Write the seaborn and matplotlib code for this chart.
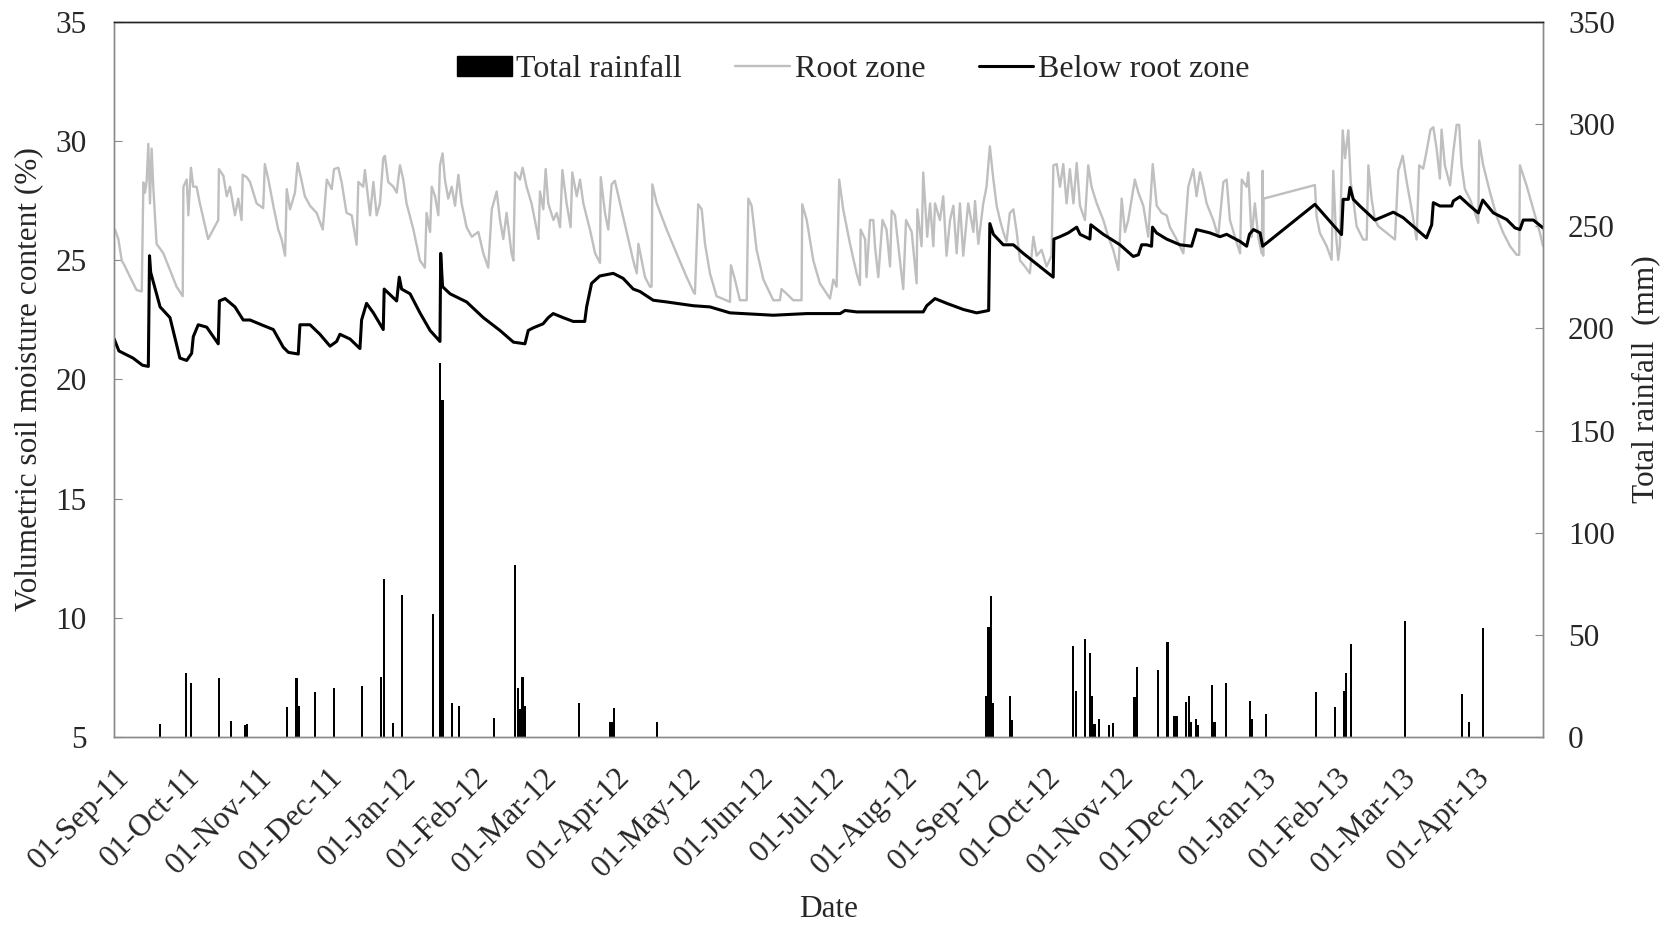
import numpy as np
import pandas as pd
import matplotlib
matplotlib.use("Agg")
import matplotlib.pyplot as plt
import matplotlib.dates as mdates
from matplotlib.patches import Patch
from matplotlib.lines import Line2D
import seaborn as sns

# ---------------- data (days after 01-Sep-2011) ----------------
START = "2011-09-01"

below_days = [0, 2, 8, 12, 14.5, 15, 15.5, 19.5, 23.7, 27.9,
              30.8, 32.9, 33.6, 35.7, 39.3, 44.2, 44.7, 47.1, 51.3, 54.8,
              57.7, 63.3, 67.6, 71.8, 74.0, 78.2, 78.9, 83.2, 87.4, 91.7,
              94.5, 95.9, 100.2, 104.4, 105.1, 107.2, 110.1, 114.3, 114.7, 120.0,
              121.1, 122.1, 125.7, 129.9, 134.2, 138.4, 138.7, 139.5, 142.7, 149.7,
              156.8, 163.9, 169.6, 174.5, 175.9, 178.0, 182.2, 184.4, 186.5, 190.7,
              195.0, 199.9, 200.7, 202.8, 206.3, 212.0, 216.2, 220.5, 223.3, 229.0,
              234.6, 246.0, 253.1, 261.6, 280.0, 294.2, 308.4, 310.5, 315.4, 343.7,
              345.2, 348.7, 353.7, 360.8, 366.4, 371.5, 372.0, 373.5, 377.7, 382.0,
              386.2, 398.9, 399.2, 401.8, 405.3, 408.9, 410.3, 414.5, 414.9, 420.2,
              427.3, 432.9, 435.1, 436.5, 438.6, 440.7, 441.1, 442.8, 447.1, 452.8,
              457.7, 459.8, 465.5, 469.8, 472.6, 475.4, 478.3, 481.1, 482.3, 484.0,
              486.8, 487.9, 510.1, 521.4, 522.1, 524.3, 525.0, 526.4, 529.2, 535.6,
              543.4, 547.6, 557.5, 559.7, 560.4, 563.2, 568.2, 568.9, 571.7, 576.0,
              579.5, 581.4, 585.9, 591.6, 595.1, 597.2, 598.6, 602.9, 607.0]
below_vals = [21.7, 21.2, 20.9, 20.6, 20.55, 25.2, 24.5, 23.05, 22.6, 20.9,
              20.8, 21.1, 21.8, 22.3, 22.2, 21.5, 23.3, 23.4, 23.05, 22.5,
              22.5, 22.27, 22.1, 21.36, 21.14, 21.07, 22.3, 22.3, 21.9, 21.4,
              21.6, 21.9, 21.7, 21.3, 22.5, 23.2, 22.8, 22.1, 23.8, 23.3,
              24.3, 23.8, 23.6, 22.8, 22.06, 21.6, 25.3, 23.9, 23.6, 23.26,
              22.6, 22.06, 21.57, 21.5, 22.06, 22.17, 22.34, 22.6, 22.77, 22.6,
              22.44, 22.44, 23.05, 24.04, 24.35, 24.46, 24.25, 23.8, 23.7, 23.33,
              23.26, 23.1, 23.05, 22.8, 22.7, 22.77, 22.77, 22.9, 22.84, 22.84,
              23.1, 23.4, 23.2, 22.94, 22.8, 22.9, 26.55, 26.1, 25.66, 25.66,
              25.3, 24.3, 25.9, 26.0, 26.16, 26.4, 26.1, 25.9, 26.5, 26.1,
              25.66, 25.17, 25.24, 25.66, 25.66, 25.6, 26.4, 26.16, 25.9, 25.66,
              25.6, 26.3, 26.16, 26.0, 26.1, 25.95, 25.8, 25.6, 26.1, 26.3,
              26.16, 25.6, 27.36, 26.09, 27.57, 27.57, 28.07, 27.57, 27.29, 26.7,
              27.03, 26.8, 25.95, 26.5, 27.43, 27.29, 27.29, 27.5, 27.68, 27.29,
              27.0, 27.54, 27.0, 26.72, 26.37, 26.3, 26.7, 26.7, 26.37]

root_days = [
    0.35, 1.76, 3.2, 4.6, 6.0, 8.1, 9.5, 11.7, 12.4, 13.1,
    13.8, 14.5, 15.2, 15.9, 16.6, 18.0, 20.9, 23.7, 26.5, 29.1,
    29.4, 30.8, 31.5, 32.6, 33.6, 35.0, 36.4, 39.9, 44.2, 44.5,
    46.4, 47.8, 49.2, 51.3, 52.7, 54.1, 54.6, 56.3, 57.7, 60.5,
    63.3, 64.0, 65.5, 67.6, 69.7, 71.1, 72.6, 73.3, 74.7, 76.8,
    77.9, 79.6, 81.0, 83.2, 86.0, 88.6, 90.3, 92.4, 93.4, 95.2,
    96.6, 98.7, 100.9, 103.0, 103.7, 105.8, 106.5, 108.7, 110.1, 111.5,
    112.9, 114.3, 115.0, 116.4, 118.6, 120.0,
    121.4, 122.8, 124.2, 127.1, 129.9, 132.0, 132.7, 134.2, 134.9, 136.3,
    137.7, 138.4, 139.5, 140.5, 141.9, 143.4, 144.8, 146.2, 147.6, 149.7,
    151.9, 154.7, 156.8, 158.9, 160.4, 162.5, 163.9, 165.3, 166.7, 168.8,
    169.6, 170.3, 172.4, 173.5, 175.2, 177.3, 179.5, 180.2, 180.9, 182.3,
    183.3, 184.4, 186.6, 188.0, 189.4, 190.4, 192.2, 193.9, 194.6, 196.5,
    197.9, 199.3, 202.1, 204.3, 206.4, 206.7, 208.5, 209.9, 211.3, 212.7,
    214.9, 217.7, 220.5, 222.0, 222.7, 224.1, 225.5, 227.6, 228.3, 228.6,
    230.5, 234.7, 238.9, 243.2, 246.0,
    246.7, 248.1, 249.6, 251.0, 253.1, 255.9, 261.6, 262.0, 263.7, 265.8,
    268.7, 269.4, 270.8, 272.9, 275.8, 280.0, 282.8, 283.5, 285.7, 288.5,
    292.0, 292.3, 294.2, 297.0, 299.8, 304.1, 305.5, 306.9, 308.0, 309.7,
    312.6, 315.4, 316.8, 317.1, 319.0, 319.6, 321.1, 322.5, 323.2, 324.6,
    326.4, 328.1, 329.6, 330.3, 331.7, 333.8, 335.2, 336.4, 338.8, 340.9,
    341.2, 343.0, 343.7, 345.4, 346.6, 348.0, 348.7, 350.8, 352.2, 353.6,
    355.1, 356.5, 357.9, 359.3, 360.7, 362.8, 365.0, 365.7, 367.1,
    369.2, 370.6, 372.0, 373.5, 374.9, 376.3, 377.7, 379.1, 380.5, 382.0,
    383.4, 384.8, 386.9, 389.0, 390.5, 391.9, 394.0, 396.1, 398.2, 399.0,
    400.4, 401.8, 403.2, 404.6, 406.0, 407.5, 408.9, 410.3, 412.4, 413.8,
    415.2, 417.4, 420.2, 422.3, 424.4, 426.6, 428.0, 429.4, 430.8, 433.6,
    435.1, 437.2, 439.3, 441.2, 442.9, 445.0, 447.1, 448.5, 451.3, 454.2,
    456.3, 458.4, 459.8, 461.3, 462.7, 464.1, 466.9, 469.0, 471.2, 472.6,
    474.0, 476.1, 478.3, 479.0, 481.1, 481.8, 483.2, 484.6, 486.0, 487.5,
    487.9, 488.1, 488.3,
    510.1, 510.8, 512.2, 515.1, 517.2, 517.9, 519.0, 520.0, 520.7, 521.9,
    522.9, 524.3, 525.3, 526.4, 527.8, 529.2, 530.6, 532.1, 532.8, 534.2,
    535.6, 537.0, 540.6, 544.1, 545.5, 547.4, 549.1, 551.2, 553.3, 554.4,
    556.1, 557.5, 559.2, 560.4, 561.8, 563.2, 563.9, 565.3, 567.5, 568.9,
    570.3, 571.4, 572.4, 573.8, 576.0, 578.1, 579.5, 579.9, 581.6, 584.5,
    587.3, 590.1, 593.0, 595.8, 596.9, 597.2, 600.0, 602.9, 605.7, 607.0]
root_vals = [
    26.3, 25.9, 25.0, 24.75, 24.46, 24.04, 23.76, 23.7, 28.28, 27.85,
    28.35, 29.9, 27.4, 29.7, 28.1, 25.7, 25.3, 24.6, 23.9, 23.5,
    28.1, 28.4, 26.9, 28.9, 28.1, 28.1, 27.4, 25.9, 26.7, 28.84,
    28.56, 27.7, 28.1, 26.9, 27.6, 26.7, 28.6, 28.5, 28.3, 27.4,
    27.2, 29.05, 28.4, 27.3, 26.3, 25.9, 25.2, 28.0, 27.15, 27.85,
    29.1, 28.35, 27.7, 27.3, 27.0, 26.3, 28.4, 28.0, 28.84, 28.9,
    28.3, 27.0, 26.9, 25.66, 28.3, 28.1, 28.8, 26.9, 28.3, 26.9,
    27.4, 29.3, 29.4, 28.3, 28.1, 27.85,
    29.0, 28.4, 27.4, 26.3, 25.0, 24.7, 27.0, 26.2, 28.1, 27.7,
    26.9, 29.0, 29.5, 28.4, 27.6, 28.1, 27.3, 28.6, 27.4, 26.4,
    26.0, 26.2, 25.3, 24.7, 27.15, 27.9, 26.7, 25.9, 27.0, 25.3,
    25.0, 28.7, 28.4, 28.9, 28.1, 27.4, 26.3, 25.9, 27.9, 27.15,
    28.84, 27.4, 26.7, 27.0, 26.4, 28.8, 27.4, 26.4, 28.7, 27.7,
    28.4, 27.4, 26.3, 25.3, 24.9, 28.5, 27.0, 26.3, 28.2, 28.35,
    27.4, 26.2, 25.0, 24.46, 25.7, 25.0, 24.3, 23.9, 23.9, 28.2,
    27.4, 26.3, 25.3, 24.3, 23.7,
    23.6, 27.36, 27.15, 25.7, 24.46, 23.5, 23.26, 24.8, 24.2, 23.33,
    23.33, 27.6, 27.3, 25.45, 24.2, 23.33, 23.33, 23.8, 23.6, 23.33,
    23.33, 27.36, 26.7, 25.0, 24.04, 23.4, 24.2, 23.9, 28.4, 27.15,
    25.7, 24.46, 23.97, 26.3, 25.9, 24.3, 26.7, 26.7, 25.6, 24.3,
    26.7, 26.3, 24.75, 27.1, 26.9, 25.0, 23.8, 26.7, 26.2, 24.04,
    27.15, 25.6, 28.7, 26.0, 27.4, 25.6, 27.4, 26.7, 27.7, 25.2,
    26.7, 27.3, 25.3, 27.4, 25.2, 27.4, 26.2, 27.5, 25.7,
    27.4, 28.1, 29.8, 28.4, 27.3, 26.7, 26.2, 25.8, 27.0, 27.15,
    26.2, 25.0, 24.75, 24.46, 26.0, 25.2, 25.45, 24.75, 25.2, 29.0,
    29.05, 28.1, 29.05, 27.4, 28.84, 27.4, 29.1, 27.3, 26.7, 29.0,
    28.1, 27.4, 26.7, 26.0, 25.45, 24.6, 27.6, 26.2, 26.7, 28.4,
    27.85, 27.3, 26.0, 29.05, 27.3, 27.0, 26.9, 26.4, 25.9, 25.3,
    28.1, 28.84, 27.7, 28.7, 28.1, 27.4, 26.7, 26.0, 28.3, 28.4,
    26.7, 26.0, 25.3, 28.4, 28.1, 28.7, 26.0, 27.4, 26.0, 25.3,
    28.77, 25.2, 27.6,
    28.17, 26.86, 26.16, 25.6, 25.03, 28.77, 26.16, 25.03, 25.6, 30.47,
    29.3, 30.47, 28.3, 27.57, 26.44, 26.16, 25.88, 25.88, 29.0, 27.57,
    26.72, 26.44, 26.16, 25.88, 28.77, 29.4, 28.3, 27.15, 25.88, 29.0,
    28.86, 29.57, 30.5, 30.6, 29.7, 28.44, 30.5, 29.0, 28.16, 29.57,
    30.7, 30.7, 29.0, 28.0, 27.57, 27.0, 26.58, 30.04, 29.0, 27.86,
    26.86, 26.16, 25.6, 25.24, 25.24, 29.0, 28.16, 27.15, 26.16, 25.6]

rain_days = [19, 30, 32, 44, 49, 55, 56, 73, 77, 78,
             85, 93, 105, 113, 114, 118, 122, 135, 138, 139,
             143, 146, 161, 170, 171, 172, 173, 174, 197, 210,
             211, 212, 230, 370, 371, 372, 373, 380, 381, 407,
             408, 412, 414, 415, 416, 418, 422, 424, 433, 434,
             443, 447, 450, 451, 455, 456, 457, 459, 460, 466,
             467, 472, 482, 483, 489, 510, 518, 522, 523, 525,
             548, 572, 575, 581]
rain_mm = [6.1, 31.3, 26.4, 28.8, 7.6, 5.6, 6.1, 14.3, 28.8, 15.0,
           22.0, 23.6, 24.9, 29.3, 77.1, 6.8, 69.4, 60.0, 183.2, 165.0,
           16.3, 15.0, 9.2, 84.1, 23.6, 13.3, 29.3, 15.0, 16.3, 7.3,
           7.3, 13.8, 7.3, 20.0, 53.8, 69.0, 16.3, 20.0, 8.1, 44.5,
           22.5, 47.6, 40.8, 20.0, 6.1, 8.7, 5.6, 6.8, 19.5, 33.9,
           32.6, 46.5, 10.0, 10.0, 16.8, 20.0, 7.3, 8.7, 5.6, 25.1,
           7.3, 26.4, 17.6, 8.7, 11.2, 22.0, 14.5, 22.5, 31.3, 45.2,
           56.6, 20.7, 7.3, 53.3]

assert len(below_days) == len(below_vals), (len(below_days), len(below_vals))
assert len(root_days) == len(root_vals), (len(root_days), len(root_vals))
assert len(rain_days) == len(rain_mm), (len(rain_days), len(rain_mm))

left_ticks = [5, 10, 15, 20, 25, 30, 35]
right_ticks = [0, 50, 100, 150, 200, 250, 300, 350]
legend_labels = ["Total rainfall", "Root zone", "Below root zone"]

# ---------------- style ----------------
sns.set_style("white")
plt.rcParams["font.family"] = ["Liberation Serif", "DejaVu Serif"]
FS = 22.5
GREY_AX = "#8a8a8a"
ROOT_C = "#bfbfbf"

start = pd.Timestamp(START)
def to_dates(days):
    return start + pd.to_timedelta(np.asarray(days, dtype=float), unit="D")

df_below = pd.DataFrame({"date": to_dates(below_days), "vwc": below_vals})
df_root = pd.DataFrame({"date": to_dates(root_days), "vwc": root_vals})
df_rain = pd.DataFrame({"date": to_dates(rain_days), "mm": rain_mm})

fig = plt.figure(figsize=(16.73, 9.27), dpi=100)
ax = fig.add_axes([0.06826, 0.2055, 0.85404, 0.77023])
ax2 = ax.twinx()

# rainfall bars (right axis)
ax2.bar(df_rain["date"], df_rain["mm"], width=0.9, align="edge",
        color="black", linewidth=0)

# soil moisture lines (left axis)
sns.lineplot(data=df_root, x="date", y="vwc", ax=ax, color=ROOT_C,
             linewidth=1.7, estimator=None, sort=False, legend=False)
sns.lineplot(data=df_below, x="date", y="vwc", ax=ax, color="black",
             linewidth=2.2, estimator=None, sort=False, legend=False)

ax.set_zorder(ax2.get_zorder() + 1)
ax.patch.set_visible(False)

ax.set_xlim(start, start + pd.Timedelta(days=607))
ax.set_ylim(5, 35)
ax.set_yticks(left_ticks)
ax2.set_ylim(0, 350)
ax2.set_yticks(right_ticks)

ax.xaxis.set_major_locator(mdates.MonthLocator(bymonthday=1))
ax.xaxis.set_major_formatter(mdates.DateFormatter("%d-%b-%y"))

for a in (ax, ax2):
    for s in a.spines.values():
        s.set_color(GREY_AX)
        s.set_linewidth(1.0)
    a.spines["top"].set_color("#222222")

ax.tick_params(axis="x", direction="in", length=6, color=GREY_AX,
               labelsize=FS, pad=19)
ax.tick_params(axis="y", direction="in", length=6, color=GREY_AX,
               labelsize=FS, pad=20)
ax2.tick_params(axis="y", direction="in", length=6, color=GREY_AX,
                labelsize=FS, pad=18)
for lab in ax.get_xticklabels():
    lab.set_rotation(45)
    lab.set_ha("right")
    lab.set_va("top")
    lab.set_rotation_mode("anchor")

ax.set_xlabel("Date", fontsize=FS)
ax.xaxis.set_label_coords(0.5, -0.2416)
ax.xaxis.label.set_va("center")
ax.set_ylabel("Volumetric soil moisture content (%)", fontsize=FS)
ax.yaxis.set_label_coords(-0.0596, 0.5)
ax.yaxis.label.set_va("center")
ax2.set_ylabel("Total rainfall  (mm)", fontsize=FS)
ax2.yaxis.set_label_coords(1.0721, 0.5)
ax2.yaxis.label.set_va("center")

handles = [Patch(facecolor="black", edgecolor="black"),
           Line2D([], [], color=ROOT_C, linewidth=1.7),
           Line2D([], [], color="black", linewidth=2.2)]
fig.legend(handles, legend_labels, loc="center", bbox_to_anchor=(0.510, 0.925),
           ncol=3, frameon=False, fontsize=23, handlelength=1.7,
           handleheight=0.6, handletextpad=0.15, columnspacing=1.67)

fig.savefig("out.png", dpi=100)
